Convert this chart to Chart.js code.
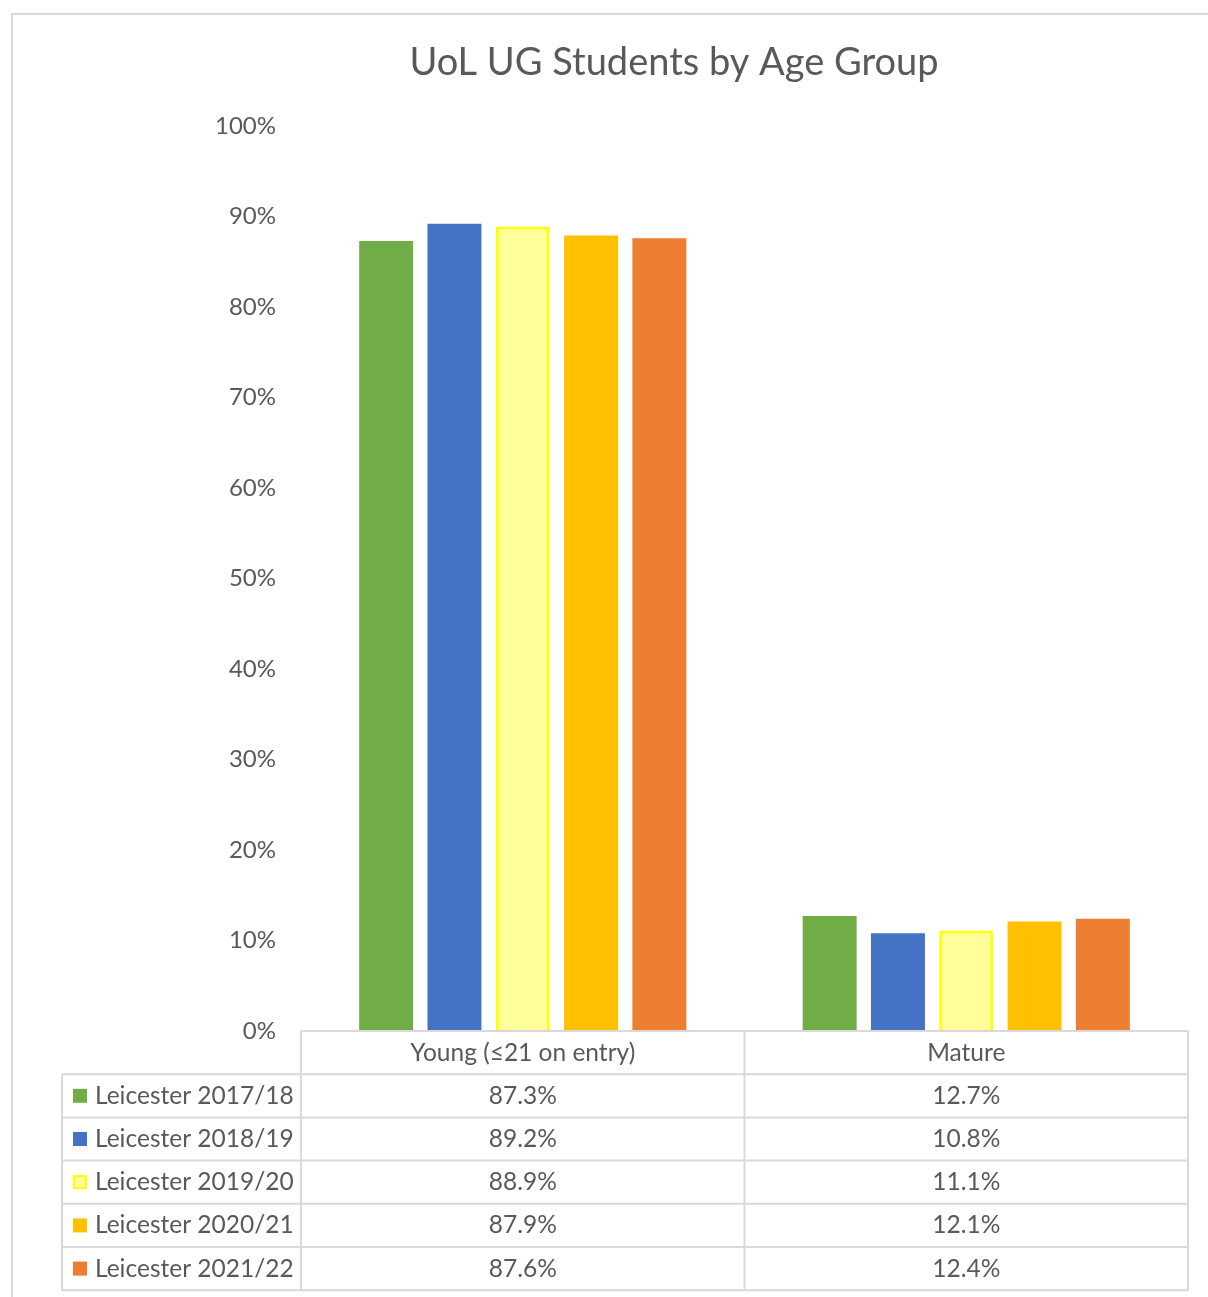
<!DOCTYPE html>
<html lang="en">
<head>
  <meta charset="utf-8">
  <title>UoL UG Students by Age Group</title>
  <script src="https://cdn.jsdelivr.net/npm/chart.js@4.4.0/dist/chart.umd.min.js"></script>
  <style>
    html, body { margin: 0; padding: 0; background: #fff; }
    #wrap { width: 1208px; height: 1297px; }
  </style>
</head>
<body>
  <div id="wrap"><canvas id="myChart" width="1208" height="1297"></canvas></div>

  <script>
    // data
    var categories = ['Young (\u226421 on entry)', 'Mature'];
    var seriesNames = ['Leicester 2017/18', 'Leicester 2018/19', 'Leicester 2019/20', 'Leicester 2020/21', 'Leicester 2021/22'];
    var young = [87.3, 89.2, 88.9, 87.9, 87.6];
    var mature = [12.7, 10.8, 11.1, 12.1, 12.4];
    var chartTitle = 'UoL UG Students by Age Group';

    var fills = ['#70AD47', '#4472C4', '#FFFF99', '#FFC000', '#ED7D31'];
    var edges = ['#70AD47', '#4472C4', '#FFFF00', '#FFC000', '#ED7D31'];
    var font = 'Lato, "Open Sans", sans-serif';
    var textColor = '#595959';
    var lineColor = '#D9D9D9';

    var datasets = [];
    for (var i = 0; i < seriesNames.length; i++) {
      datasets.push({
        label: seriesNames[i],
        data: [young[i], mature[i]],
        backgroundColor: fills[i],
        borderColor: edges[i],
        borderWidth: i === 2 ? 3 : 0
      });
    }

    // draws the frame, title and the data table under the plot
    var tablePlugin = {
      id: 'dataTable',
      afterDraw: function (chart) {
        var ctx = chart.ctx;
        var area = chart.chartArea;
        var xs = chart.scales.x;
        var half = (xs.getPixelForValue(1) - xs.getPixelForValue(0)) / 2;
        var cols = [area.left, xs.getPixelForValue(0) + half, area.right];
        var labelLeft = 62;
        var rowH = 43.2;
        var top = area.bottom;

        ctx.save();
        // outer frame
        ctx.strokeStyle = lineColor;
        ctx.lineWidth = 2;
        ctx.beginPath();
        ctx.moveTo(12, 1297);
        ctx.lineTo(12, 14);
        ctx.lineTo(1208, 14);
        ctx.stroke();

        // title
        ctx.fillStyle = textColor;
        ctx.font = '38px ' + font;
        ctx.textAlign = 'center';
        ctx.textBaseline = 'middle';
        ctx.fillText(chartTitle, 674, 63);

        // grid of the table
        ctx.strokeStyle = lineColor;
        ctx.lineWidth = 2;
        ctx.beginPath();
        ctx.moveTo(cols[0], top); ctx.lineTo(cols[2], top);
        for (var r = 1; r <= seriesNames.length + 1; r++) {
          var y = top + r * rowH;
          ctx.moveTo(labelLeft, y); ctx.lineTo(cols[2], y);
        }
        var bottom = top + (seriesNames.length + 1) * rowH;
        ctx.moveTo(labelLeft, top + rowH); ctx.lineTo(labelLeft, bottom);
        for (var c = 0; c < cols.length; c++) {
          ctx.moveTo(cols[c], top); ctx.lineTo(cols[c], bottom);
        }
        ctx.stroke();

        // header text
        ctx.fillStyle = textColor;
        ctx.font = '24.5px ' + font;
        ctx.textAlign = 'center';
        for (var k = 0; k < categories.length; k++) {
          ctx.fillText(categories[k], (cols[k] + cols[k + 1]) / 2, top + rowH / 2);
        }

        // rows
        for (var s = 0; s < seriesNames.length; s++) {
          var cy = top + (s + 1.5) * rowH;
          // legend key
          ctx.fillStyle = fills[s];
          ctx.fillRect(73, cy - 7, 14, 14);
          if (s === 2) {
            ctx.strokeStyle = edges[s];
            ctx.lineWidth = 2;
            ctx.strokeRect(74, cy - 6, 12, 12);
          }
          ctx.fillStyle = textColor;
          ctx.textAlign = 'left';
          ctx.fillText(seriesNames[s], 95, cy);
          ctx.textAlign = 'center';
          ctx.fillText(young[s].toFixed(1) + '%', (cols[0] + cols[1]) / 2, cy);
          ctx.fillText(mature[s].toFixed(1) + '%', (cols[1] + cols[2]) / 2, cy);
        }
        ctx.restore();
      }
    };

    var ctx = document.getElementById('myChart');
    var myChart = new Chart(ctx, {
      type: 'bar',
      data: { labels: categories, datasets: datasets },
      options: {
        responsive: false,
        animation: false,
        devicePixelRatio: 1,
        categoryPercentage: 0.77,
        barPercentage: 0.79,
        layout: { padding: { left: 11, right: 20, top: 126, bottom: 266 } },
        plugins: {
          legend: { display: false },
          title: { display: false },
          tooltip: { enabled: false }
        },
        scales: {
          x: { display: false },
          y: {
            min: 0,
            max: 100,
            afterFit: function (scale) { scale.width = 290; },
            border: { display: false },
            grid: { display: false, drawTicks: false },
            ticks: {
              stepSize: 10,
              padding: 25,
              color: textColor,
              font: { family: font, size: 24 },
              callback: function (v) { return v + '%'; }
            }
          }
        }
      },
      plugins: [tablePlugin]
    });
  </script>
</body>
</html>
